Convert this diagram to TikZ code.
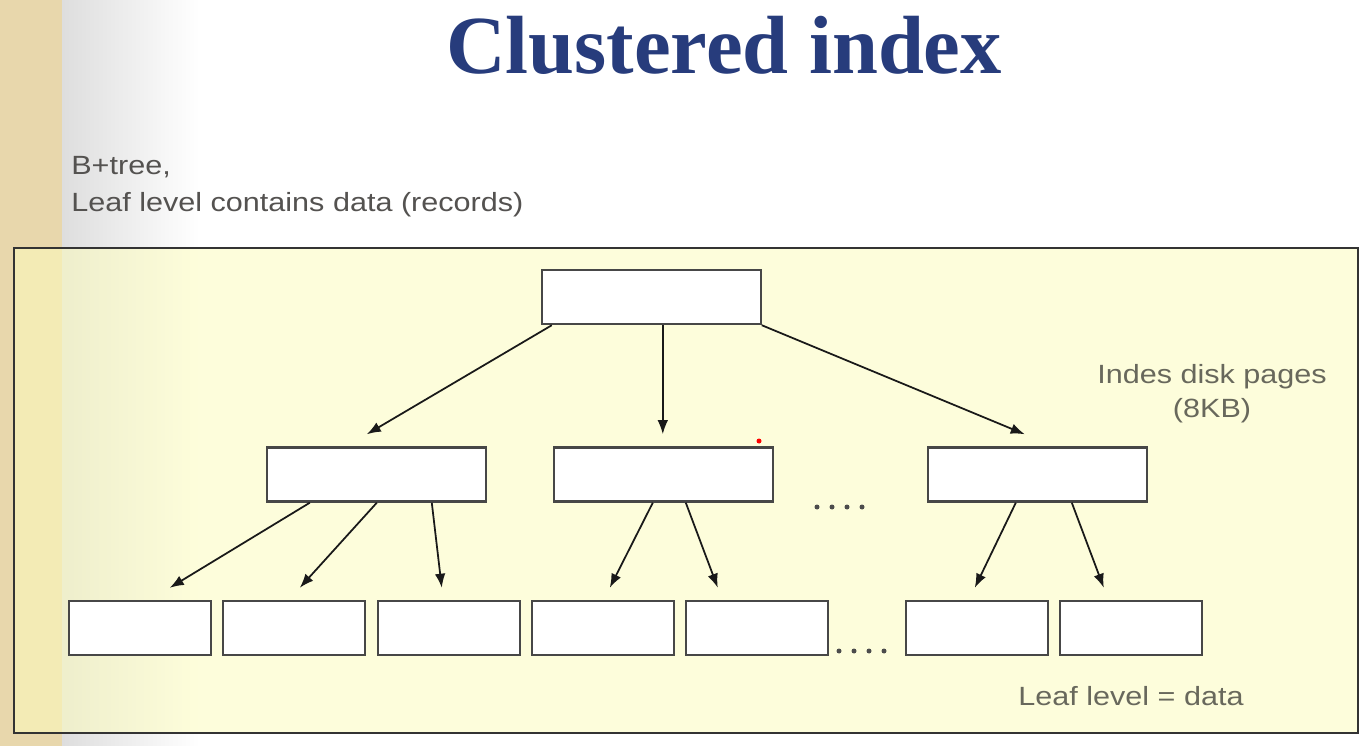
\documentclass[tikz,border=0pt]{standalone}
\usepackage{fontspec}
\usepackage{tikz}
\usetikzlibrary{arrows.meta,calc}
\newfontfamily\labelsans[FakeStretch=1.16]{Liberation Sans}
\newfontfamily\titleserif{Liberation Serif}
\definecolor{titleblue}{RGB}{39,60,124}
\definecolor{introgray}{RGB}{84,82,80}
\definecolor{notegray}{RGB}{104,104,92}
\definecolor{parchment}{RGB}{232,215,172}
\definecolor{panelyellow}{RGB}{253,253,190}

\begin{document}
\begin{tikzpicture}
	[x=0.02cm,y=-0.02cm,
	page/.style={draw=black!72,line width=1.4pt,fill=white,minimum height=1.08cm,inner sep=0pt},
	innerpage/.style={page,minimum width=4.38cm},
	leafpage/.style={page,minimum width=2.84cm},
	link/.style={line width=1pt,black!90,-{Latex[length=8pt,width=6pt]}},
	note/.style={font=\labelsans\fontsize{15}{18}\selectfont,inner sep=0pt}]
	% slide background
	\useasboundingbox (0,0) rectangle (1372,746);
	\fill[white] (0,0) rectangle (1372,746);
	\shade[left color=black!13,right color=white] (62,0) rectangle (200,746);
	\fill[parchment] (0,0) rectangle (62,746);
	\draw[draw=black!80,line width=1pt,fill=panelyellow,fill opacity=0.55] (14,248) rectangle (1358,733);
	
	% texts
	\node[anchor=base,text=titleblue,inner sep=0pt,font=\titleserif\bfseries\fontsize{47}{50}\selectfont] (title) at (724,74) {Clustered index};
	\node[note,anchor=base west,text=introgray] (intro1) at (71,175) {B+tree,};
	\node[note,anchor=base west,text=introgray] (intro2) at (71,212) {Leaf level contains data (records)};
	\node[note,anchor=base,text=notegray] (pages1) at (1212,383) {Indes disk pages};
	\node[note,anchor=base,text=notegray] (pages2) at (1212,418) {(8KB)};
	\node[note,anchor=base,text=notegray] (leafnote) at (1131,705) {Leaf level = data};
	
	% index pages
	\node[innerpage] (root) at (651.5,297) {};
	\node[innerpage] (m1) at (376.5,474.5) {};
	\node[innerpage] (m2) at (663.5,474.5) {};
	\node[innerpage] (m3) at (1037.5,474.5) {};
	
	% leaf pages
	\foreach \name/\x in {l1/140,l2/294,l3/449,l4/603,l5/757,l6/977,l7/1131}
	\node[leafpage] (\name) at (\x,628) {};
	
	\foreach \from/\dx/\to/\ex in {root/11/m1/101,root/122/m2/110,root/221/m3/98,m1/44/l1/102,m1/111/l2/78,m1/166/l3/65,m2/100/l4/79,m2/133/l5/33,m3/89/l6/70,m3/145/l7/45}
	\draw[link] ($(\from.south west)+(\dx,0)$) -- ($(\to.north west)+(\ex,-12)$);
	
	% dots
	\foreach \x in {817,832,847,862}
	\fill[black!70] (\x,507) circle[radius=0.05cm];
	\foreach \x in {839,854,869,884}
	\fill[black!70] (\x,651) circle[radius=0.05cm];
	\fill[red] (759,441) circle[radius=0.05cm];
\end{tikzpicture}
\end{document}
